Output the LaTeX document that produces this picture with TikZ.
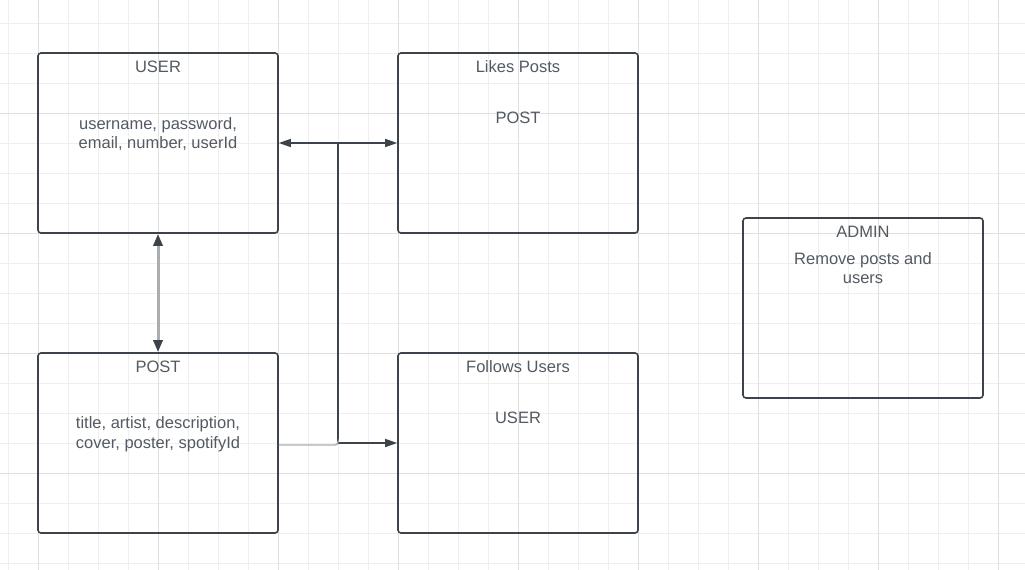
\documentclass[tikz,border=0pt]{standalone}
\usepackage{fontspec}
\setmainfont{Liberation Sans}
\usetikzlibrary{arrows.meta,calc}
\definecolor{inkline}{RGB}{61,67,75}
\definecolor{inktext}{RGB}{84,90,98}
\definecolor{gridminor}{RGB}{239,239,239}
\definecolor{gridmajor}{RGB}{224,224,224}
\definecolor{faint}{RGB}{170,173,178}
\tikzset{
  entity/.style={draw=inkline, line width=1.6pt, rounded corners=3pt,
    minimum width=240pt, minimum height=180pt, inner sep=0pt},
  label/.style={text=inktext, font=\fontsize{16.5}{19.5}\selectfont, align=center, inner sep=0pt},
  link/.style={draw=inkline, line width=1.4pt, {Triangle[length=12pt,width=8pt]}-{Triangle[length=12pt,width=8pt]}},
}
\begin{document}
\begin{tikzpicture}[x=1pt,y=-1pt]
\useasboundingbox (0,0) rectangle (1025,570);
\fill[white] (0,0) rectangle (1025,570);
% GRID
\foreach \x in {8,38,...,1020} \draw[gridminor, line width=1pt] (\x,0) -- (\x,570);
\foreach \y in {23,53,...,570} \draw[gridminor, line width=1pt] (0,\y) -- (1025,\y);
\foreach \x in {38,158,...,1000} \draw[gridmajor, line width=1pt] (\x,0) -- (\x,570);
\foreach \y in {113,233,...,570} \draw[gridmajor, line width=1pt] (0,\y) -- (1025,\y);
% BOXES
\node[entity] at (158,143) (user) {};
\node[entity] at (518,143) (likes) {};
\node[entity] at (158,443) (post) {};
\node[entity] at (518,443) (follows) {};
\node[entity] at (863,308) (admin) {};
% TEXT
\node[label] at (158,67) (user_title) {USER};
\node[label] at (158,134) (user_fields) {username, password,\\email, number, userId};
\node[label] at (518,67) (likes_title) {Likes Posts};
\node[label] at (518,118) (likes_body) {POST};
\node[label] at (158,367) (post_title) {POST};
\node[label] at (158,434) (post_fields) {title, artist, description,\\cover, poster, spotifyId};
\node[label] at (518,367) (follows_title) {Follows Users};
\node[label] at (518,418) (follows_body) {USER};
\node[label] at (863,232) (admin_title) {ADMIN};
\node[label] at (863,268) (admin_body) {Remove posts and\\users};
% CONNECTORS
\coordinate (junction) at (338,143);
\draw[faint, line width=3pt, {Triangle[length=12pt,width=9pt,color=inkline]}-{Triangle[length=12pt,width=9pt,color=inkline]}]
  (user.south) -- (post.north);
\draw[link] (user.east) -- (likes.west);
\draw[link, -{Triangle[length=12pt,width=8pt]}] (junction) |- (follows.west);
\draw[faint, line width=1.4pt, rounded corners=3pt] ($(post.east)+(0,2)$) -- ($(post.east -| junction)+(0,2)$) -- (post.east -| junction);
\end{tikzpicture}
\end{document}
